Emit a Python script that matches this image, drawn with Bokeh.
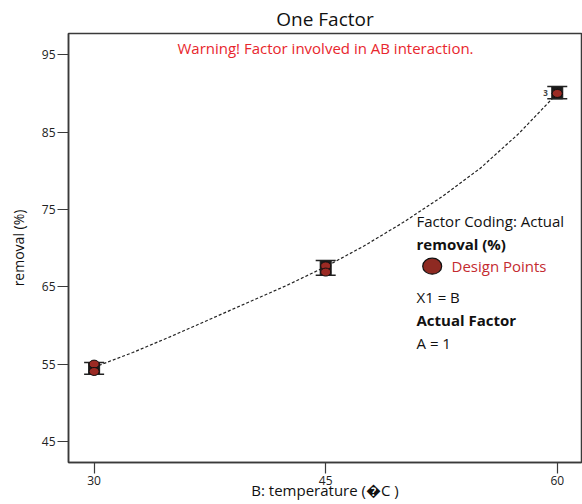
from bokeh.plotting import figure
from bokeh.models import Label, Range1d, FixedTicker
from bokeh.embed import file_html
from bokeh.resources import INLINE

# Design points: B (temperature) and removal (%)
points_x = [30, 30, 45, 45, 60, 60, 60]
points_y = [55.0, 54.05, 67.7, 66.9, 90.0, 90.0, 90.0]

# Bars around each factor level
bar_x = [30, 45, 60]
bar_low = [53.7, 66.5, 89.3]
bar_high = [55.2, 68.4, 90.9]

# Predicted response along B (A = 1)
curve_x = [30, 32.5, 35, 37.5, 40, 42.5, 45, 47.5, 50, 52.5, 55, 57.5, 60]
curve_y = [54.6, 56.5, 58.6, 60.8, 63.0, 65.2, 67.6, 70.3, 73.3, 76.6, 80.3, 84.8, 90.0]

x_ticks = [30, 45, 60]
y_ticks = [45, 55, 65, 75, 85, 95]

# Canvas / frame geometry (pixels)
W, H = 582, 504
LEFT, TOP, RIGHT, BOTTOM = 68, 33, 1, 42
FW, FH = W - LEFT - RIGHT, H - TOP - BOTTOM
X0, X1 = 28.34, 61.57
Y0, Y1 = 42.28, 97.75


def sx(px):
    return X0 + (px - LEFT) * (X1 - X0) / FW


def sy(py):
    return Y1 - (py - TOP) * (Y1 - Y0) / FH


FONT = "Open Sans"
AXIS_COLOR = "#3a3a3a"
POINT_FILL = "#9b2a24"

p = figure(width=W, height=H, output_backend="svg", toolbar_location=None,
           x_range=Range1d(X0, X1), y_range=Range1d(Y0, Y1),
           min_border_left=LEFT, min_border_right=RIGHT,
           min_border_top=TOP, min_border_bottom=BOTTOM,
           title="One Factor",
           x_axis_label="B: temperature (\ufffdC )",
           y_axis_label="removal (%)")
p.xgrid.visible = False
p.ygrid.visible = False
p.outline_line_color = AXIS_COLOR
p.outline_line_width = 1.5
p.background_fill_color = "white"
p.border_fill_color = "white"

p.title.align = "center"
p.title.text_font = FONT
p.title.text_font_size = "19px"
p.title.text_font_style = "normal"
p.title.text_color = "#111111"
p.title.standoff = 4

for ax, ticks in ((p.xaxis, x_ticks), (p.yaxis, y_ticks)):
    ax.ticker = FixedTicker(ticks=ticks)
    ax.axis_line_color = AXIS_COLOR
    ax.axis_line_width = 1.5
    ax.major_tick_line_color = AXIS_COLOR
    ax.major_tick_line_width = 1.2
    ax.major_tick_out = 11
    ax.major_tick_in = 0
    ax.minor_tick_line_color = None
    ax.major_label_text_font = FONT
    ax.major_label_text_font_size = "12px"
    ax.major_label_text_color = "#222222"
    ax.major_label_standoff = 2
    ax.axis_label_text_font = FONT
    ax.axis_label_text_font_style = "normal"
    ax.axis_label_text_color = "#111111"

p.xaxis.axis_label_text_font_size = "15px"
p.xaxis.axis_label_standoff = -8
p.yaxis.axis_label_text_font_size = "14px"
p.yaxis.axis_label_standoff = 11

# Fitted curve
p.line(curve_x, curve_y, line_color="#222222", line_width=1.2, line_dash="3 2")

# Bars: dark band behind the points plus caps
mid = [(lo + hi) / 2 for lo, hi in zip(bar_low, bar_high)]
span = [hi - lo for lo, hi in zip(bar_low, bar_high)]
p.rect(x=bar_x, y=mid, width=11, height=span, width_units="screen",
       fill_color="#1a1a1a", line_color="#1a1a1a")
p.scatter(x=bar_x, y=bar_low, marker="dash", size=20,
          line_color="#222222", line_width=1.5)
p.scatter(x=bar_x, y=bar_high, marker="dash", size=20,
          line_color="#222222", line_width=1.5)

# Design points
p.ellipse(x=points_x, y=points_y, width=10, height=8,
          width_units="screen", height_units="screen",
          fill_color=POINT_FILL, line_color="#111111", line_width=1)

# Replicate count at B = 60
p.add_layout(Label(x=sx(545), y=sy(92), text="3", text_font=FONT,
                   text_font_size="8px", text_font_style="bold",
                   text_align="center", text_baseline="middle"))

# Model warning
p.add_layout(Label(x=sx(325), y=sy(47.5), text="Warning! Factor involved in AB interaction.",
                   text_font=FONT, text_font_size="15px", text_align="center",
                   text_baseline="middle", text_color="#e8262d"))

# Legend block
legend_rows = [
    ("Factor Coding: Actual", 220.5, "normal", "#111111", 416),
    ("removal (%)", 243, "bold", "#111111", 416),
    ("Design Points", 265.5, "normal", "#c42b30", 451),
    ("X1 = B", 296.5, "normal", "#111111", 416),
    ("Actual Factor", 319.5, "bold", "#111111", 416),
    ("A = 1", 342.5, "normal", "#111111", 416),
]
for text, py, style, color, px in legend_rows:
    p.add_layout(Label(x=sx(px), y=sy(py), text=text, text_font=FONT,
                       text_font_size="15px", text_font_style=style,
                       text_color=color, text_align="left",
                       text_baseline="middle"))
p.ellipse(x=[sx(431.7)], y=[sy(265.7)], width=19, height=16,
          width_units="screen", height_units="screen",
          fill_color="#8e2a22", line_color="#111111", line_width=1.2)

open("out.html", "w").write(file_html(p, INLINE))
